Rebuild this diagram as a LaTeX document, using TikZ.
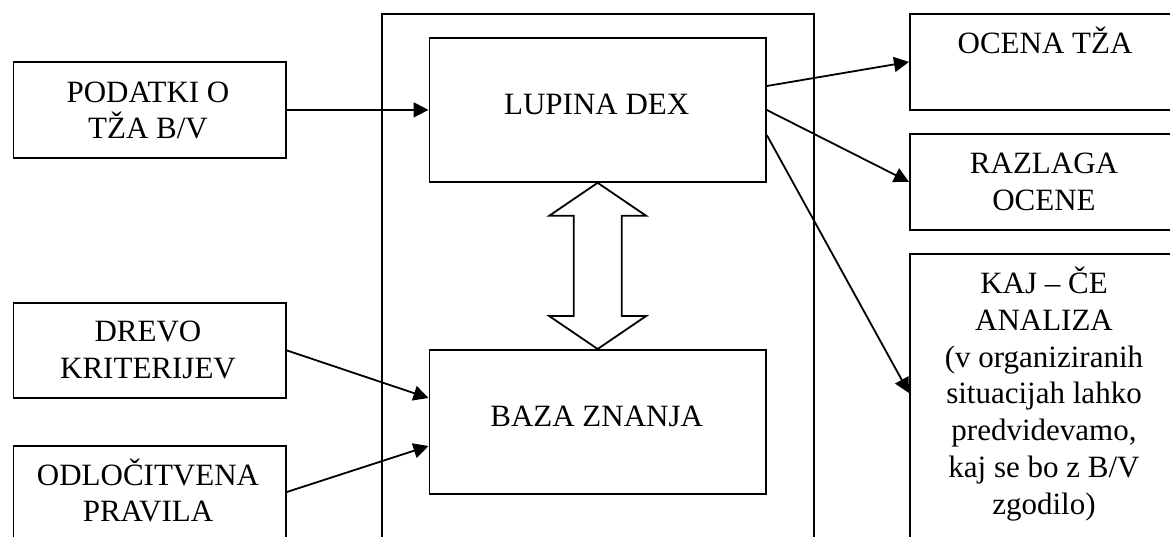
\documentclass[tikz,border=0pt]{standalone}
\usepackage{fontspec}
\setmainfont{Liberation Serif}
\usetikzlibrary{arrows.meta,calc}
\tikzset{
  box/.style={draw, line width=1.8pt, rectangle, inner sep=0pt, anchor=north west},
  txt/.style={font=\fontsize{31}{36.7}\selectfont, align=center, inner sep=0pt, anchor=base},
  arr/.style={line width=1.8pt, -{Triangle[length=15pt,width=15pt]}},
  dbl/.style={line width=1.8pt, line join=miter, fill=white}
}
\begin{document}
\begin{tikzpicture}[x=1pt,y=-1pt]
\useasboundingbox (0,0) rectangle (1170,536);
\clip (0,0) rectangle (1170,536);
% boxes
\node[box, minimum width=432pt, minimum height=540pt] (cont) at (381,13) {};
\node[box, minimum width=272.5pt, minimum height=96pt] (podatki) at (12.5,61) {};
\node[box, minimum width=336.5pt, minimum height=144pt] (lupina) at (428.5,37) {};
\node[box, minimum width=336.5pt, minimum height=144pt] (baza) at (428.5,349) {};
\node[box, minimum width=272pt, minimum height=96pt] (ocena) at (909,13) {};
\node[box, minimum width=272pt, minimum height=96pt] (razlaga) at (909,133) {};
\node[box, minimum width=272pt, minimum height=300pt] (kaj) at (909,253) {};
\node[box, minimum width=272.5pt, minimum height=95pt] (drevo) at (12.5,302) {};
\node[box, minimum width=272.5pt, minimum height=110pt] (odl) at (12.5,445) {};
% texts (multi-line nodes: base = baseline of last line)
\node[txt] (tpodatki) at (148,138.7) {PODATKI O\\TŽA B/V};
\node[txt] (tlupina) at (596.7,114) {LUPINA DEX};
\node[txt] (tbaza) at (596.7,426) {BAZA ZNANJA};
\node[txt] (tocena) at (1045,53.3) {OCENA TŽA};
\node[txt] (trazlaga) at (1044,210) {RAZLAGA\\OCENE};
\node[txt] (tkaj) at (1044,514) {KAJ – ČE\\ANALIZA\\(v organiziranih\\situacijah lahko\\predvidevamo,\\kaj se bo z B/V\\zgodilo)};
\node[txt] (tdrevo) at (148,378.3) {DREVO\\KRITERIJEV};
\node[txt] (todl) at (148,521.7) {ODLOČITVENA\\PRAVILA};
% connectors
\draw[arr] (podatki.east) -- (lupina.west);
\draw[arr] ($(lupina.north east)+(0,49)$) -- (ocena.west);
\draw[arr] ($(lupina.north east)+(0,73)$) -- (razlaga.west);
\draw[arr] ($(lupina.north east)+(0,98)$) -- ($(kaj.north west)+(0,140)$);
\draw[arr] (drevo.east) -- ($(baza.north west)+(0,49)$);
\draw[arr] ($(odl.north east)+(0,47)$) -- ($(baza.north west)+(0,97)$);
% double arrow
\coordinate (t) at (lupina.south);
\coordinate (b) at (baza.north);
\draw[dbl] (t) -- ($(t)+(48.5,33)$) -- ($(t)+(24,33)$) -- ($(b)+(24,-33)$) -- ($(b)+(48.5,-33)$) -- (b)
  -- ($(b)+(-48.5,-33)$) -- ($(b)+(-24,-33)$) -- ($(t)+(-24,33)$) -- ($(t)+(-48.5,33)$) -- cycle;
\end{tikzpicture}
\end{document}
